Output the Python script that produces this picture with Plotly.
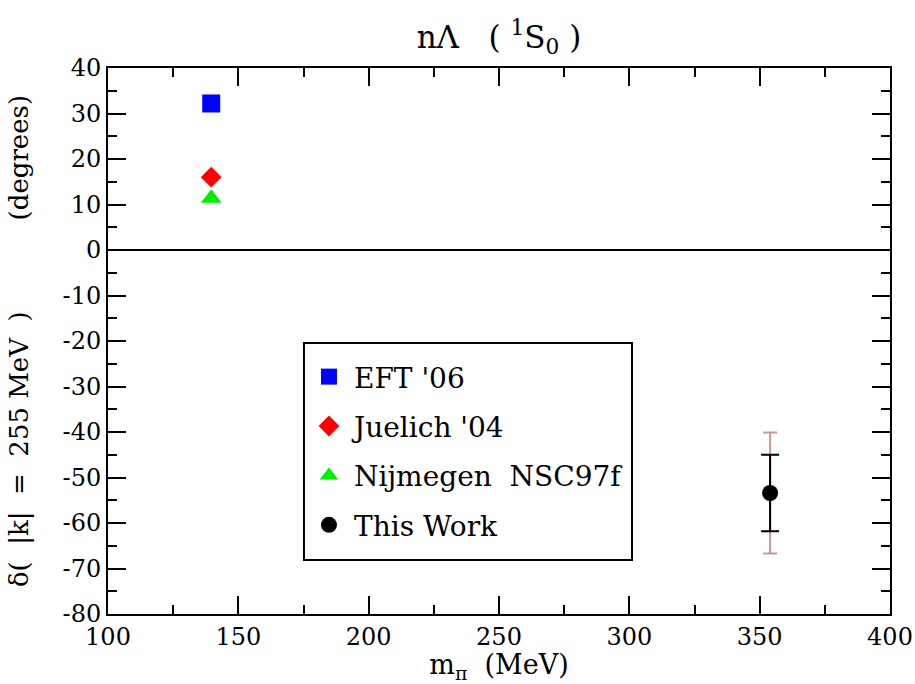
import plotly.graph_objects as go

# Phase shift of the nΛ 1S0 channel at |k| = 255 MeV vs pion mass
names = ["EFT '06", "Juelich '04", "Nijmegen  NSC97f", "This Work"]
m_pi = [139.6, 139.6, 139.6, 354.0]
delta = [32.2, 16.0, 11.4, -53.4]
err_stat = 8.4      # inner (black) error bar
err_total = 13.3    # outer (pink) error bar

x_ticks = [100, 150, 200, 250, 300, 350, 400]
y_ticks = [40, 30, 20, 10, 0, -10, -20, -30, -40, -50, -60, -70, -80]

symbols = ["square", "diamond", "triangle-up", "circle"]
colors = ["#0000ff", "#ff0000", "#00ee00", "#000000"]
sizes = [18, 16, 18, 16]

SERIF = "DejaVu Serif"
NB = "\u00a0"

fig = go.Figure()

# outer error bar of the lattice point, drawn first so it sits underneath
fig.add_trace(go.Scatter(
    x=[m_pi[3]], y=[delta[3]], mode="markers",
    marker=dict(size=1, color="rgba(0,0,0,0)"),
    error_y=dict(type="constant", value=err_total, color="#c89898",
                 thickness=2, width=7),
    showlegend=False, hoverinfo="skip"))

for i in range(4):
    kw = {}
    if i == 3:
        kw["error_y"] = dict(type="constant", value=err_stat, color="#000000",
                             thickness=2, width=9)
    fig.add_trace(go.Scatter(
        x=[m_pi[i]], y=[delta[i]], mode="markers", name=names[i],
        legendgroup=f"g{i}",
        marker=dict(symbol=symbols[i], size=sizes[i], color=colors[i],
                    line=dict(width=0)),
        **kw))

axis_common = dict(
    showline=True, linecolor="black", linewidth=2, mirror="ticks",
    ticks="inside", ticklen=18, tickwidth=2, tickcolor="black",
    showgrid=False, automargin=False,
    tickfont=dict(family=SERIF, size=24, color="black"),
)

fig.update_xaxes(
    range=[100, 400], tickvals=x_ticks, ticktext=[str(v) for v in x_ticks],
    minor=dict(dtick=25, ticks="inside", ticklen=9, tickwidth=2,
               tickcolor="black", showgrid=False),
    zeroline=False,
    title=dict(text="m<sub>π</sub>" + NB * 2 + "(MeV)", standoff=4,
               font=dict(family=SERIF, size=27, color="black")),
    **axis_common)

y_title = ("δ(" + NB * 2 + "|k|" + NB * 2 + "=" + NB * 2 + "255" + NB + "MeV"
           + NB * 2 + ")" + NB * 11 + "(degrees)")

fig.update_yaxes(
    range=[-80, 40], tickvals=y_ticks, ticktext=[str(v) for v in y_ticks],
    minor=dict(dtick=5, ticks="inside", ticklen=9, tickwidth=2,
               tickcolor="black", showgrid=False),
    zeroline=True, zerolinecolor="black", zerolinewidth=2,
    title=dict(text=y_title, standoff=26,
               font=dict(family=SERIF, size=26, color="black")),
    **axis_common)

# legend frame
fig.add_shape(type="rect", xref="paper", yref="paper",
              x0=0.2506, x1=0.6701, y0=0.0989, y1=0.4963,
              line=dict(color="black", width=2), fillcolor="white",
              layer="below")

fig.update_layout(
    width=915, height=684,
    margin=dict(l=108, r=25, t=68, b=70),
    paper_bgcolor="white", plot_bgcolor="white",
    title=dict(text="nΛ" + NB * 2 + " (" + NB + "<sup>1</sup>S<sub>0</sub>" + NB + ")",
               x=0.5, xref="paper", xanchor="center",
               y=1 - 37 / 684, yref="container", yanchor="middle",
               font=dict(family=SERIF, size=31, color="black")),
    legend=dict(x=0.2506, y=0.480, xanchor="left", yanchor="top",
                borderwidth=0, bgcolor="rgba(0,0,0,0)",
                tracegroupgap=10, itemwidth=40,
                font=dict(family=SERIF, size=28, color="black")),
)

fig.write_html("out.html")
